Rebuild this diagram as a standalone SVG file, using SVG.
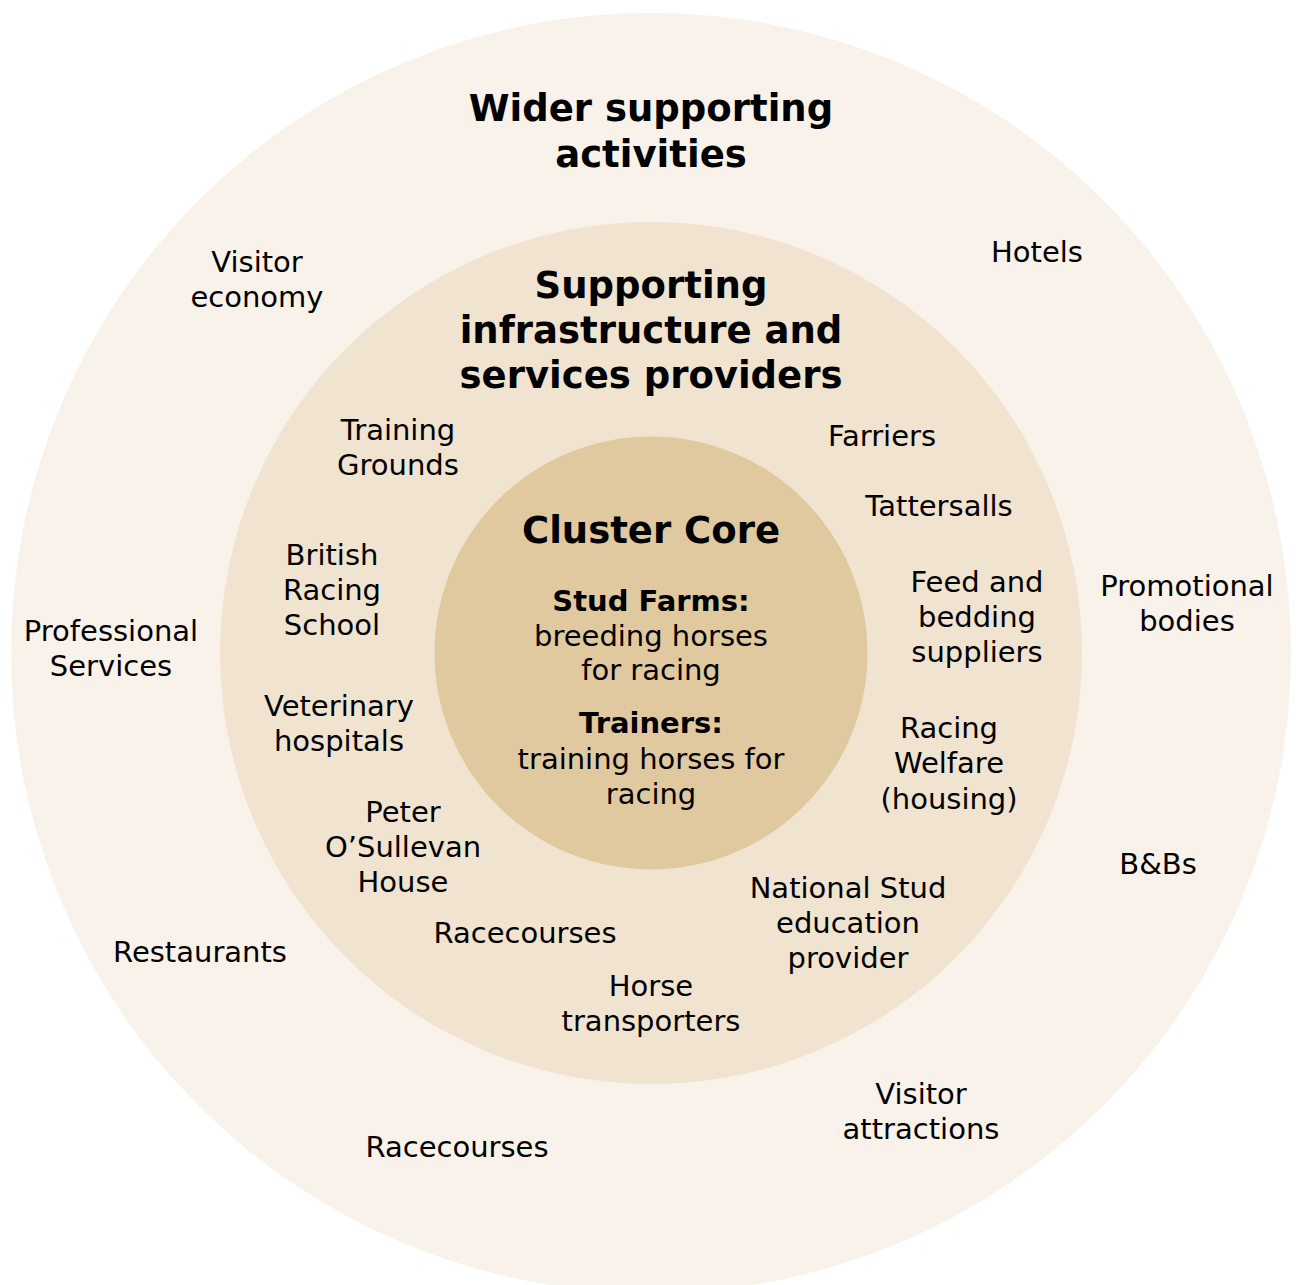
<svg xmlns="http://www.w3.org/2000/svg" width="1296" height="1285" viewBox="0 0 1296 1285">
  <style>
    text { font-family: "DejaVu Sans", Verdana, sans-serif; fill: #000; text-anchor: middle; }
    .lbl { font-size: 29px; }
    .ttl { font-size: 37px; font-weight: bold; }
    .sub { font-size: 29px; font-weight: bold; }
    .ring-outer { fill: #f9f2ea; }
    .ring-mid { fill: #f0e3d0; }
    .ring-core { fill: #e1c99f; }
  </style>
  <rect width="1296" height="1285" fill="#ffffff"/>

  <!-- concentric rings -->
  <g id="rings">
    <circle class="ring-outer" cx="651" cy="653" r="640"/>
    <circle class="ring-mid" cx="651" cy="653" r="431"/>
    <circle class="ring-core" cx="651" cy="653" r="216.5"/>
  </g>

  <!-- outer ring: wider supporting activities -->
  <g id="wider-title">
    <text class="ttl" x="651" y="121">Wider supporting</text>
    <text class="ttl" x="651" y="167">activities</text>
  </g>
  <g id="visitor-economy">
    <text class="lbl" x="257" y="272">Visitor</text>
    <text class="lbl" x="257" y="307">economy</text>
  </g>
  <g id="hotels"><text class="lbl" x="1037" y="262">Hotels</text></g>
  <g id="promotional-bodies">
    <text class="lbl" x="1187" y="596">Promotional</text>
    <text class="lbl" x="1187" y="631">bodies</text>
  </g>
  <g id="professional-services">
    <text class="lbl" x="111" y="641">Professional</text>
    <text class="lbl" x="111" y="676">Services</text>
  </g>
  <g id="bnbs"><text class="lbl" x="1158" y="874">B&amp;Bs</text></g>
  <g id="restaurants"><text class="lbl" x="200" y="962">Restaurants</text></g>
  <g id="visitor-attractions">
    <text class="lbl" x="921" y="1104">Visitor</text>
    <text class="lbl" x="921" y="1139">attractions</text>
  </g>
  <g id="racecourses-outer"><text class="lbl" x="457" y="1157">Racecourses</text></g>

  <!-- middle ring: supporting infrastructure and services -->
  <g id="supporting-title">
    <text class="ttl" x="651" y="298">Supporting</text>
    <text class="ttl" x="651" y="343">infrastructure and</text>
    <text class="ttl" x="651" y="388">services providers</text>
  </g>
  <g id="training-grounds">
    <text class="lbl" x="398" y="440">Training</text>
    <text class="lbl" x="398" y="475">Grounds</text>
  </g>
  <g id="farriers"><text class="lbl" x="882" y="446">Farriers</text></g>
  <g id="tattersalls"><text class="lbl" x="939" y="516">Tattersalls</text></g>
  <g id="british-racing-school">
    <text class="lbl" x="332" y="565">British</text>
    <text class="lbl" x="332" y="600">Racing</text>
    <text class="lbl" x="332" y="635">School</text>
  </g>
  <g id="feed-bedding">
    <text class="lbl" x="977" y="592">Feed and</text>
    <text class="lbl" x="977" y="627">bedding</text>
    <text class="lbl" x="977" y="662">suppliers</text>
  </g>
  <g id="veterinary-hospitals">
    <text class="lbl" x="339" y="716">Veterinary</text>
    <text class="lbl" x="339" y="751">hospitals</text>
  </g>
  <g id="racing-welfare">
    <text class="lbl" x="949" y="738">Racing</text>
    <text class="lbl" x="949" y="773">Welfare</text>
    <text class="lbl" x="949" y="809">(housing)</text>
  </g>
  <g id="peter-osullevan-house">
    <text class="lbl" x="403" y="822">Peter</text>
    <text class="lbl" x="403" y="857">O’Sullevan</text>
    <text class="lbl" x="403" y="892">House</text>
  </g>
  <g id="national-stud">
    <text class="lbl" x="848" y="898">National Stud</text>
    <text class="lbl" x="848" y="933">education</text>
    <text class="lbl" x="848" y="968">provider</text>
  </g>
  <g id="racecourses-inner"><text class="lbl" x="525" y="943">Racecourses</text></g>
  <g id="horse-transporters">
    <text class="lbl" x="651" y="996">Horse</text>
    <text class="lbl" x="651" y="1031">transporters</text>
  </g>

  <!-- core -->
  <g id="cluster-core">
    <text class="ttl" x="651" y="543">Cluster Core</text>
  </g>
  <g id="stud-farms">
    <text class="sub" x="651" y="611">Stud Farms:</text>
    <text class="lbl" x="651" y="646">breeding horses</text>
    <text class="lbl" x="651" y="680">for racing</text>
  </g>
  <g id="trainers">
    <text class="sub" x="651" y="733">Trainers:</text>
    <text class="lbl" x="651" y="769">training horses for</text>
    <text class="lbl" x="651" y="804">racing</text>
  </g>
</svg>
